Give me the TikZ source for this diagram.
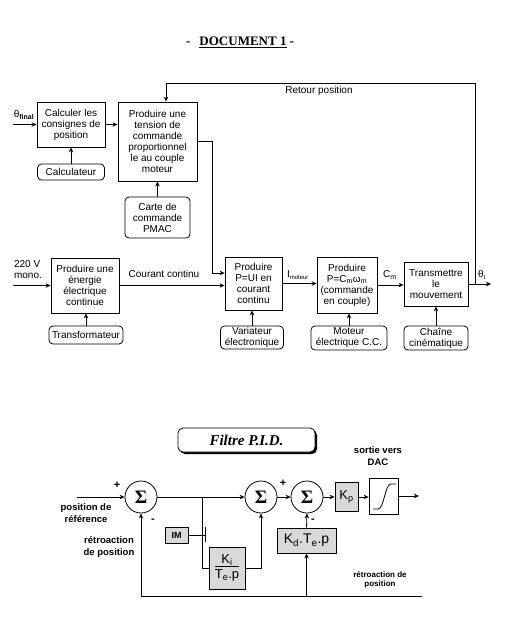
\documentclass[tikz,border=0pt]{standalone}
\usepackage{fontspec}
\setmainfont{Liberation Sans}
\newfontfamily\docSerif{Liberation Serif}
\usetikzlibrary{arrows.meta,shadows}

\begin{document}
\begin{tikzpicture}[x=1pt,y=-1pt,
  line width=0.8pt,
  >={Stealth[length=5pt,width=4.5pt]},
  every node/.style={font=\fontsize{10}{11}\selectfont, inner sep=0pt},
  fnBox/.style={draw, align=center},
  supBox/.style={draw, rounded corners=4pt, align=center},
  sumNode/.style={draw, circle, fill=white, minimum size=32pt, font=\docSerif\bfseries\fontsize{19}{19}\selectfont},
  pidBox/.style={draw, fill=black!15, align=center, font=\fontsize{13}{14}\selectfont},
  pidLabel/.style={align=center, font=\bfseries\fontsize{9.5}{12}\selectfont},
  signLbl/.style={font=\bfseries\fontsize{11}{11}\selectfont}]
\useasboundingbox (0,0) rectangle (517,630);

\node (docTitle) at (240,42) {\docSerif\bfseries\fontsize{13}{13}\selectfont -\hspace{9pt}\underline{DOCUMENT 1}\hspace{3pt}-};

\node[fnBox, minimum width=68pt, minimum height=45pt] (calc) at (71,124.5) {Calculer les\\consignes de\\position};
\node[supBox, minimum width=67pt, minimum height=16pt] (calculateur) at (71,172) {Calculateur};
\node[fnBox, minimum width=79pt, minimum height=79pt] (tension) at (157.5,141.5) {Produire une\\tension de\\commande\\proportionnel\\le au couple\\moteur};
\node[supBox, minimum width=65pt, minimum height=41pt] (carte) at (157.5,217.5) {Carte de\\commande\\PMAC};
\node[fnBox, minimum width=68pt, minimum height=55pt] (energie) at (85,285.5) {Produire une\\énergie\\électrique\\continue};
\node[supBox, minimum width=74pt, minimum height=18pt] (transfo) at (86,335) {Transformateur};
\node[fnBox, minimum width=57pt, minimum height=53pt] (pui) at (253.5,283.5) {Produire\\P=UI en\\courant\\continu};
\node[supBox, minimum width=63pt, minimum height=23pt] (variateur) at (252,337.5) {Variateur\\électronique};
\node[fnBox, minimum width=60pt, minimum height=56pt] (pcm) at (347,285) {Produire\\P=C\textsubscript{m}ω\textsubscript{m}\\(commande\\en couple)};
\node[supBox, minimum width=76pt, minimum height=24pt] (moteur) at (349,338) {Moteur\\électrique C.C.};
\node[fnBox, minimum width=64pt, minimum height=44pt] (trans) at (436,284) {Transmettre\\le\\mouvement};
\node[supBox, minimum width=64pt, minimum height=24pt] (chaine) at (436,338) {Chaîne\\cinématique};

\node (thetaFinal) at (24,115) {θ\textsubscript{\bfseries final}};
\node[align=left] (volt) at (28,270) {220 V\\mono.};
\node (courant) at (164,274) {Courant continu};
\node (iMoteur) at (298,275) {I\textsubscript{\fontsize{6}{6}\selectfont moteur}};
\node (cM) at (390,275) {C\textsubscript{m}};
\node (thetaI) at (482,275) {θ\textsubscript{i}};
\node (retour) at (319,91) {Retour position};

\coordinate (inFinal) at (13,124.5);
\coordinate (inVolt) at (13,285.5);
\coordinate (puiIn) at ([yshift=10.5pt]pui.west);
\coordinate (outTheta) at (491,284);
\coordinate (tap) at (475,284);
\coordinate (fbTop) at (166,83);

\draw[->] (inFinal) -- (calc.west);
\draw[->] (calc.east) -- (calc.east -| tension.west);
\draw[->] (calculateur.north) -- (calc.south);
\draw[->] (carte.north) -- (tension.south);
\draw[->] (tension.east) -| ([xshift=-12pt]puiIn) -- (puiIn);
\draw[->] (inVolt) -- (energie.west);
\draw[->] (transfo.north) -- (transfo.north |- energie.south);
\draw[->] (energie.east) -- (energie.east -| pui.west);
\draw[->] (variateur.north) -- (variateur.north |- pui.south);
\draw[->] (pui.east) -- (pui.east -| pcm.west);
\draw[->] (moteur.north) -- (moteur.north |- pcm.south);
\draw[->] (pcm.east) -- (pcm.east -| trans.west);
\draw[->] (chaine.north) -- (trans.south);
\draw[->] (trans.east) -- (outTheta);
\draw[->] (tap) |- (fbTop) -- (fbTop |- tension.north);

\node[draw, rounded corners=5pt, fill=white, minimum width=137pt, minimum height=24pt, drop shadow={shadow xshift=2pt, shadow yshift=-2pt, fill=black, opacity=1}, font=\docSerif\bfseries\itshape\fontsize{15}{15}\selectfont] (pid) at (246.5,440) {Filtre P.I.D.};

\node[sumNode] (s1) at (141,497) {Σ};
\node[sumNode] (s2) at (261,497) {Σ};
\node[sumNode] (s3) at (307,497) {Σ};
\node[pidBox, minimum width=36pt, minimum height=42pt] (ki) at (227,568) {\begin{tabular}{@{}c@{}}K\textsubscript{i}\\[-1pt]\hline\rule{0pt}{12pt}T\textsubscript{e}.p\end{tabular}};
\node[pidBox, minimum width=23pt, minimum height=16pt, font=\bfseries\fontsize{9}{9}\selectfont] (im) at (176.5,535) {IM};
\node[pidBox, minimum width=23pt, minimum height=29pt] (kp) at (346.5,497) {K\textsubscript{p}};
\node[draw, minimum width=29pt, minimum height=36pt] (sat) at (383.5,496) {};
\node[pidBox, minimum width=59pt, minimum height=25pt, font=\fontsize{14}{14}\selectfont] (kd) at (306.5,540.5) {K\textsubscript{d}.T\textsubscript{e}.p};

\draw (373,509) -- (378,509) .. controls (384,509) and (385,484) .. (391,484) -- (396,484);

\node[pidLabel] (refLbl) at (86,513) {position de\\référence};
\node[pidLabel] (retroLbl) at (109,547) {rétroaction\\de position};
\node[pidLabel] (dacLbl) at (378,456) {sortie vers\\DAC};
\node[pidLabel, font=\bfseries\fontsize{8}{9}\selectfont] (retroLbl2) at (380,580) {rétroaction de\\position};
\node[signLbl] (p1) at (117,485) {+};
\node[signLbl] (m1) at (153,521) {-};
\node[signLbl] (p2) at (283,483) {+};
\node[signLbl] (m2) at (313,521) {-};

\coordinate (refIn) at (77,497);
\coordinate (branch) at (202,497);
\coordinate (imSw) at (205,535);
\coordinate (dacOut) at (419,496);
\coordinate (fbIn) at (422,596);

\draw[->] (refIn) -- (s1.west);
\draw[->] (s1.east) -- (s2.west);
\draw (branch) |- (ki.west);
\draw[->] (ki.east) -| (s2.south);
\draw (im.east) -- (imSw);
\draw ([yshift=8pt]imSw) -- ([yshift=-7pt]imSw);
\draw[->] (s2.east) -- (s3.west);
\draw[->] (s3.east) -- (kp.west);
\draw[->] (kp.east) -- (kp.east -| sat.west);
\draw[->] (sat.east) -- (dacOut);
\draw[->] (kd.north) -- (s3.south);
\draw[->] (fbIn) -| (s1.south);
\draw[->] (kd.south |- fbIn) -- (kd.south);
\end{tikzpicture}
\end{document}
